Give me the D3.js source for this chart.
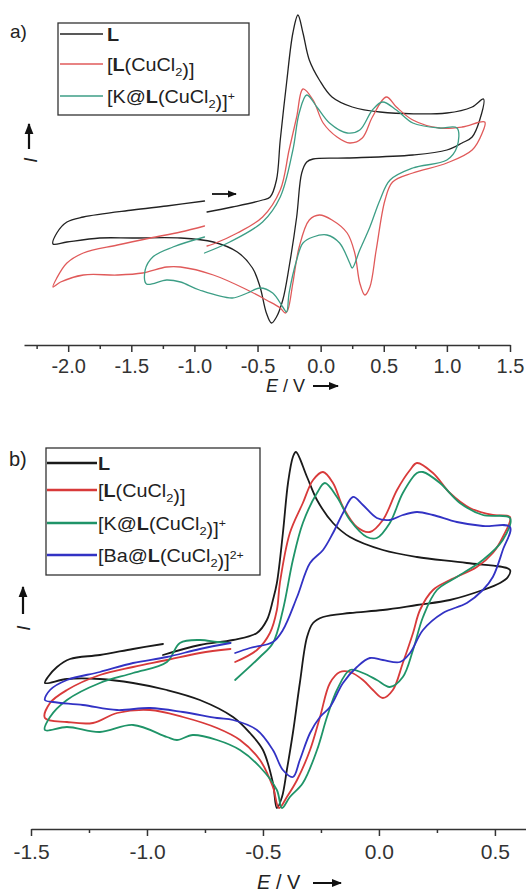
<!DOCTYPE html>
<html><head><meta charset="utf-8">
<script src="https://cdn.jsdelivr.net/npm/d3@7"></script>
<style>
html,body{margin:0;padding:0;background:#fff;}
svg{display:block;font-family:"Liberation Sans",Arial,sans-serif;}
</style></head>
<body>
<svg id="c" width="526" height="892"></svg>
<script>
// ---------------- DATA ----------------
const ticksA = [-2.0,-1.5,-1.0,-0.5,0.0,0.5,1.0,1.5];
const minorA = [-2.25,-1.75,-1.25,-0.75,-0.25,0.25,0.75,1.25];
const ticksB = [-1.5,-1.0,-0.5,0.0,0.5];
const minorB = [-1.25,-0.75,-0.25,0.25];

const seriesNamesA = ["L","[L(CuCl2)]","[K@L(CuCl2)]+"];
const seriesNamesB = ["L","[L(CuCl2)]","[K@L(CuCl2)]+","[Ba@L(CuCl2)]2+"];

// Panel a  (E / V, I / arb. units)
const aL = [[-0.90,-37],[-0.70,-32],[-0.46,-25],[-0.40,-22],[-0.35,-5],[-0.32,35],[-0.27,92],[-0.22,142],[-0.18,160],[-0.14,142],[-0.09,115],[-0.01,95],[0.09,78],[0.25,68],[0.47,63],[1.00,62],[1.20,68],[1.29,76],
  [1.26,55],[1.20,38],[1.12,32],[1.00,25],[0.73,20],[0.21,17],[-0.06,16],[-0.11,13],[-0.15,2],[-0.19,-42],[-0.25,-92],[-0.30,-125],[-0.35,-142],[-0.39,-148],[-0.43,-138],[-0.48,-112],[-0.54,-93],[-0.66,-77],[-0.85,-67],[-1.11,-63],[-1.49,-63],[-1.75,-63],[-2.01,-67],[-2.12,-69],
  [-2.09,-58],[-2.01,-47],[-1.88,-42],[-1.49,-35],[-1.22,-31],[-0.92,-26]];
const aLCu = [[-0.90,-71],[-0.85,-69],[-0.66,-58],[-0.46,-42],[-0.32,-15],[-0.25,25],[-0.19,58],[-0.14,86],[-0.06,75],[0.02,52],[0.13,38],[0.23,32],[0.33,37],[0.41,58],[0.52,78],[0.60,68],[0.73,55],[0.94,47],[1.12,48],[1.30,53],
  [1.28,42],[1.20,25],[1.00,12],[0.73,2],[0.57,-7],[0.51,-25],[0.44,-75],[0.39,-112],[0.35,-120],[0.31,-108],[0.27,-78],[0.21,-58],[0.09,-45],[-0.01,-40],[-0.09,-45],[-0.17,-72],[-0.22,-108],[-0.26,-135],[-0.28,-138],[-0.32,-133],[-0.43,-125],[-0.58,-115],[-0.85,-100],[-1.11,-92],[-1.22,-92],[-1.41,-98],[-1.61,-100],[-1.88,-100],[-2.06,-107],[-2.12,-112],
  [-2.09,-103],[-2.01,-88],[-1.88,-78],[-1.61,-70],[-1.35,-63],[-1.11,-57],[-0.92,-51]];
const aKLCu = [[-0.92,-78],[-0.72,-67],[-0.46,-47],[-0.32,-22],[-0.22,25],[-0.17,62],[-0.11,80],[-0.03,68],[0.07,52],[0.21,42],[0.31,45],[0.41,65],[0.49,73],[0.60,65],[0.73,52],[0.94,47],[1.08,47],
  [1.08,28],[1.00,15],[0.73,7],[0.55,-5],[0.47,-25],[0.39,-52],[0.31,-75],[0.25,-93],[0.23,-88],[0.15,-68],[0.05,-60],[-0.06,-62],[-0.14,-68],[-0.19,-85],[-0.25,-118],[-0.27,-137],[-0.30,-132],[-0.38,-118],[-0.48,-113],[-0.58,-118],[-0.70,-123],[-0.96,-115],[-1.11,-107],[-1.22,-105],[-1.38,-109],
  [-1.39,-95],[-1.33,-82],[-1.17,-72],[-0.92,-62]];

// Panel b
const bL = [[-0.931,-13],[-0.772,-3],[-0.629,2],[-0.526,9],[-0.483,22],[-0.457,42],[-0.440,59],[-0.414,109],[-0.392,159],[-0.371,185],[-0.358,190],[-0.310,165],[-0.267,142],[-0.198,119],[-0.125,105],[0.017,92],[0.164,85],[0.379,79],[0.565,72],
  [0.556,65],[0.522,59],[0.448,52],[0.306,42],[0.164,37],[0.017,32],[-0.125,29],[-0.241,25],[-0.284,19],[-0.310,5],[-0.341,-41],[-0.371,-91],[-0.397,-128],[-0.418,-155],[-0.440,-166],[-0.457,-141],[-0.500,-108],[-0.556,-91],[-0.629,-75],[-0.772,-58],[-0.914,-48],[-1.060,-41],[-1.203,-37],[-1.345,-37],[-1.440,-41],
  [-1.427,-35],[-1.388,-25],[-1.332,-17],[-1.203,-13],[-1.060,-7],[-0.931,-2]];
const bLCu = [[-0.620,-20],[-0.526,-8],[-0.470,9],[-0.440,32],[-0.427,59],[-0.384,109],[-0.328,139],[-0.284,162],[-0.241,170],[-0.198,159],[-0.155,135],[-0.095,115],[-0.039,110],[0.017,122],[0.078,152],[0.134,172],[0.164,179],[0.233,169],[0.306,149],[0.392,134],[0.491,127],[0.565,125],
  [0.534,105],[0.491,89],[0.422,75],[0.306,62],[0.233,52],[0.177,32],[0.147,9],[0.103,-21],[0.060,-48],[0.017,-56],[-0.026,-48],[-0.069,-38],[-0.125,-30],[-0.168,-30],[-0.211,-41],[-0.254,-75],[-0.297,-108],[-0.353,-138],[-0.397,-155],[-0.431,-166],[-0.457,-145],[-0.513,-118],[-0.599,-98],[-0.698,-86],[-0.845,-75],[-0.987,-68],[-1.129,-71],[-1.233,-81],[-1.345,-80],[-1.440,-76],
  [-1.418,-61],[-1.345,-48],[-1.203,-33],[-1.060,-25],[-0.914,-18],[-0.772,-11],[-0.640,-7]];
const bKLCu = [[-0.620,-38],[-0.513,-15],[-0.457,-1],[-0.414,32],[-0.371,82],[-0.328,119],[-0.267,149],[-0.233,159],[-0.181,145],[-0.125,122],[-0.052,105],[-0.009,104],[0.047,119],[0.103,149],[0.164,169],[0.190,170],[0.263,159],[0.349,139],[0.448,127],[0.565,124],
  [0.534,102],[0.448,82],[0.336,65],[0.250,52],[0.190,25],[0.147,-8],[0.103,-35],[0.047,-45],[-0.009,-38],[-0.069,-31],[-0.125,-28],[-0.181,-48],[-0.224,-75],[-0.267,-108],[-0.328,-141],[-0.384,-155],[-0.418,-166],[-0.440,-148],[-0.513,-125],[-0.599,-108],[-0.698,-98],[-0.802,-93],[-0.871,-98],[-0.914,-95],[-1.060,-83],[-1.203,-90],[-1.345,-85],[-1.440,-88],
  [-1.418,-75],[-1.345,-58],[-1.203,-41],[-1.060,-31],[-0.914,-20],[-0.858,-1],[-0.772,2],[-0.698,0],[-0.640,-1]];
const bBaLCu = [[-0.620,-11],[-0.556,-6],[-0.457,0],[-0.414,12],[-0.353,45],[-0.297,79],[-0.241,92],[-0.198,109],[-0.155,129],[-0.112,145],[-0.069,137],[-0.009,124],[0.047,122],[0.103,127],[0.164,130],[0.233,127],[0.336,120],[0.448,116],[0.565,115],
  [0.534,92],[0.491,65],[0.448,52],[0.379,39],[0.276,29],[0.190,12],[0.134,-11],[0.091,-20],[0.017,-18],[-0.039,-16],[-0.095,-25],[-0.155,-41],[-0.211,-65],[-0.254,-75],[-0.297,-91],[-0.341,-118],[-0.371,-135],[-0.414,-128],[-0.457,-108],[-0.526,-88],[-0.629,-78],[-0.698,-76],[-0.845,-70],[-0.987,-66],[-1.129,-68],[-1.276,-63],[-1.405,-60],[-1.440,-58],
  [-1.418,-48],[-1.345,-38],[-1.203,-30],[-1.060,-21],[-0.914,-15],[-0.772,-7],[-0.640,-1]];

// ---------------- DRAW ----------------
const svg = d3.select("#c");
const FONT = '"Liberation Sans",Arial,sans-serif';

const xa = d3.scaleLinear().domain([-2.35,1.5]).range([24,510]);
const ya = d3.scaleLinear().domain([-170,170]).range([345,5]);
const xb = d3.scaleLinear().domain([-1.5,0.634]).range([31,526]);
const yb = d3.scaleLinear().domain([-187,187]).range([829,455]);

function drawAxis(x, y0, majors, minors, fs, labDy){
  const g = svg.append("g").attr("transform",`translate(0,${y0})`);
  const ax = d3.axisBottom(x).tickValues(majors).tickFormat(d=>d.toFixed(1)).tickSize(7).tickSizeOuter(0).tickPadding(labDy);
  g.call(ax);
  g.select(".domain").attr("stroke","#333").attr("stroke-width",1.5);
  g.selectAll(".tick line").attr("stroke","#333").attr("stroke-width",1.5);
  g.selectAll(".tick text").attr("font-size",fs).attr("font-family",FONT).attr("fill","#333");
  const g2 = svg.append("g").attr("transform",`translate(0,${y0})`);
  g2.call(d3.axisBottom(x).tickValues(minors).tickFormat("").tickSize(4).tickSizeOuter(0));
  g2.select(".domain").remove();
  g2.selectAll(".tick line").attr("stroke","#333").attr("stroke-width",1.5);
}
drawAxis(xa,345,ticksA,minorA,20,7);
drawAxis(xb,829,ticksB,minorB,21,8);

function drawCurve(data, x, y, color, w){
  const line = d3.line().x(d=>x(d[0])).y(d=>y(d[1])).curve(d3.curveCatmullRom.alpha(0.5));
  svg.append("path").datum(data).attr("d",line).attr("fill","none").attr("stroke",color)
    .attr("stroke-width",w).attr("stroke-linejoin","round").attr("stroke-linecap","round");
}
const colA = ["#222","#e05a5a","#3d9e86"];
const colB = ["#1a1a1a","#d83a3a","#1f9468","#3232c4"];
[aL,aLCu,aKLCu].forEach((d,i)=>drawCurve(d,xa,ya,colA[i],1.3));
[bL,bLCu,bKLCu,bBaLCu].forEach((d,i)=>drawCurve(d,xb,yb,colB[i],1.8));

// arrow markers
const defs = svg.append("defs");
defs.append("marker").attr("id","ah").attr("viewBox","0 0 10 10").attr("refX",9).attr("refY",5)
  .attr("markerWidth",5).attr("markerHeight",5).attr("orient","auto")
  .append("path").attr("d","M0,1 L10,5 L0,9 Z").attr("fill","#111");
function arrow(x1,y1,x2,y2,w){
  svg.append("line").attr("x1",x1).attr("y1",y1).attr("x2",x2).attr("y2",y2)
    .attr("stroke","#111").attr("stroke-width",w||2).attr("marker-end","url(#ah)");
}
// scan direction arrow (panel a)
arrow(212,194,236,194,1.8);

// y-axis labels (I with arrow)
function yLabel(tx, ty, axX, ay1, ay2){
  svg.append("text").attr("transform",`translate(${tx},${ty}) rotate(-90)`).attr("text-anchor","middle")
    .attr("font-family",FONT).attr("font-style","italic").attr("font-size",19).attr("fill","#222").text("I");
  arrow(axX,ay1,axX,ay2,2.2);
}
yLabel(37,160,29,149,124);
yLabel(30,628,23,614,587);

// x-axis titles
function xTitle(x0, yb0, fs, ax1, ax2){
  const t = svg.append("text").attr("x",x0).attr("y",yb0).attr("font-family",FONT).attr("font-size",fs).attr("fill","#222");
  t.append("tspan").attr("font-style","italic").text("E");
  t.append("tspan").text(" / V");
  arrow(ax1,yb0-6,ax2,yb0-6,2);
}
xTitle(266,392,18,313,338);
xTitle(257,889,20,313,341);

// panel labels
svg.append("text").attr("x",10).attr("y",38).attr("font-family",FONT).attr("font-size",19).attr("fill","#222").text("a)");
svg.append("text").attr("x",9).attr("y",466).attr("font-family",FONT).attr("font-size",20).attr("fill","#222").text("b)");

// legends
function richLabel(t, name, fs){
  let base = name, sup = null;
  if (name.endsWith("2+")) { base = name.slice(0,-2); sup = "2+"; }
  else if (name.endsWith("+")) { base = name.slice(0,-1); sup = "+"; }
  const tokens = base.split(/(L(?=\(|$)|2)/).filter(s=>s!=="");
  tokens.forEach(tok=>{
    if (tok==="L") t.append("tspan").attr("font-weight","bold").text("L");
    else if (tok==="2") { t.append("tspan").attr("font-size",fs*0.65).attr("dy",5).text("2"); t.append("tspan").attr("dy",-5).text(""); }
    else t.append("tspan").text(tok);
  });
  if (sup) t.append("tspan").attr("font-size",fs*0.62).attr("dy",-8).text(sup);
}
function legend(x0,y0,w,h,names,cols,ys,lx1,lx2,tx,fs,lw,sx){
  svg.append("rect").attr("x",x0).attr("y",y0).attr("width",w).attr("height",h)
    .attr("fill","#fff").attr("stroke","#333").attr("stroke-width",1.3);
  names.forEach((n,i)=>{
    svg.append("line").attr("x1",lx1).attr("x2",lx2).attr("y1",ys[i]).attr("y2",ys[i]).attr("stroke",cols[i]).attr("stroke-width",lw);
    const t = svg.append("text").attr("transform",`translate(${tx},${ys[i]+7}) scale(${sx},1)`)
      .attr("font-family",FONT).attr("font-size",fs).attr("fill","#222");
    richLabel(t,n,fs);
  });
}
legend(58,23,191,92,seriesNamesA,colA,[34,64,96],60,103,107,18,1.4,1.1);
legend(46,448,214,127,seriesNamesB,colB,[463,490,523,555],47,97,98,18,2.6,1.1);
</script>
</body></html>
